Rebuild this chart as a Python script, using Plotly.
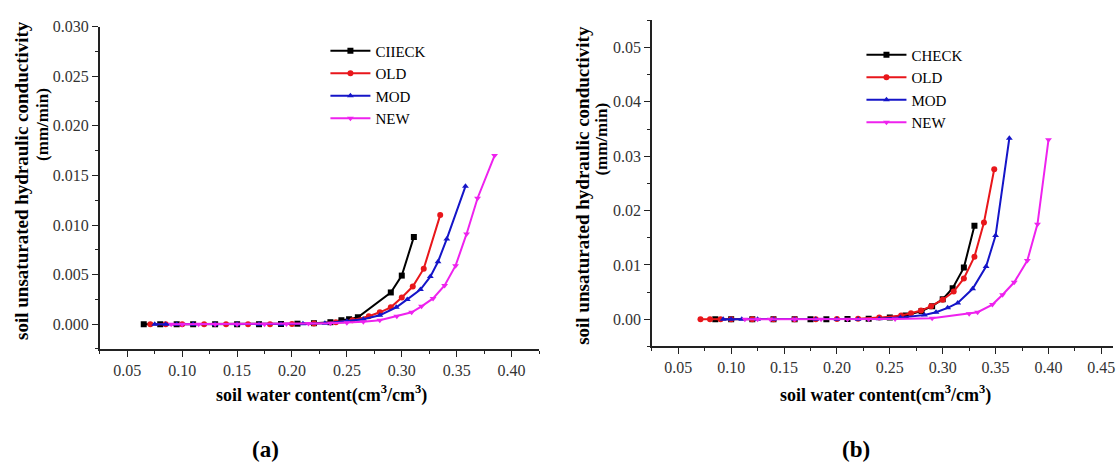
import plotly.graph_objects as go

# ---------------- data: panel (a) ----------------
a_check_x = [0.065, 0.08, 0.095, 0.11, 0.13, 0.15, 0.17, 0.19, 0.205, 0.22, 0.235, 0.245, 0.252, 0.26, 0.29, 0.30, 0.311]
a_check_y = [0, 0, 0, 0, 0, 0, 0, 0.00002, 0.00005, 0.0001, 0.0002, 0.0004, 0.0005, 0.0007, 0.0032, 0.0049, 0.0088]

a_old_x = [0.071, 0.085, 0.10, 0.12, 0.14, 0.16, 0.18, 0.20, 0.22, 0.24, 0.255, 0.27, 0.28, 0.29, 0.30, 0.31, 0.32, 0.335]
a_old_y = [0, 0, 0, 0, 0, 0, 0, 0.00003, 0.00008, 0.0002, 0.0004, 0.0008, 0.0012, 0.0017, 0.0027, 0.0038, 0.0056, 0.0110]

a_mod_x = [0.075, 0.085, 0.095, 0.11, 0.13, 0.15, 0.17, 0.19, 0.21, 0.23, 0.25, 0.265, 0.28, 0.295, 0.305, 0.317, 0.326, 0.333, 0.341, 0.358]
a_mod_y = [0, 0, 0, 0, 0, 0, 0, 0, 0.00004, 0.0001, 0.0003, 0.0005, 0.0009, 0.0017, 0.0025, 0.0035, 0.0048, 0.0063, 0.0086, 0.0139]

a_new_x = [0.09, 0.10, 0.115, 0.13, 0.15, 0.175, 0.195, 0.215, 0.235, 0.25, 0.265, 0.28, 0.2955, 0.309, 0.318, 0.3285, 0.339, 0.349, 0.359, 0.369, 0.3845]
a_new_y = [0, 0, 0, 0, 0, 0, 0.00003, 0.00006, 0.0001, 0.00015, 0.00025, 0.0004, 0.0008, 0.0012, 0.0018, 0.0026, 0.0039, 0.0059, 0.0091, 0.0127, 0.0170]

# ---------------- data: panel (b) ----------------
b_check_x = [0.085, 0.10, 0.12, 0.14, 0.16, 0.175, 0.19, 0.21, 0.23, 0.25, 0.265, 0.28, 0.29, 0.30, 0.3094, 0.32, 0.33]
b_check_y = [0, 0, 0, 0, 0, 0, 0.00002, 0.00005, 0.0001, 0.0003, 0.0007, 0.0015, 0.0024, 0.0037, 0.0057, 0.0095, 0.0172]

b_old_x = [0.071, 0.08, 0.09, 0.10, 0.12, 0.14, 0.16, 0.18, 0.20, 0.22, 0.24, 0.2607, 0.27, 0.2795, 0.289, 0.30, 0.3104, 0.32, 0.33, 0.339, 0.3487]
b_old_y = [0, 0, 0, 0, 0, 0, 0, 0, 0.00003, 0.0001, 0.0003, 0.0007, 0.0011, 0.0016, 0.0024, 0.0036, 0.0051, 0.0075, 0.0115, 0.0178, 0.0276]

b_mod_x = [0.0925, 0.10, 0.11, 0.125, 0.14, 0.16, 0.18, 0.20, 0.22, 0.24, 0.26, 0.2827, 0.2937, 0.3047, 0.3142, 0.3283, 0.341, 0.35, 0.363]
b_mod_y = [0, 0, 0, 0, 0, 0, 0, 0, 0.00002, 0.0001, 0.0003, 0.0008, 0.0013, 0.0021, 0.0030, 0.0056, 0.0097, 0.0154, 0.0333]

b_new_x = [0.113, 0.125, 0.137, 0.16, 0.185, 0.21, 0.23, 0.255, 0.29, 0.325, 0.333, 0.347, 0.3566, 0.3676, 0.38, 0.3896, 0.40]
b_new_y = [0, 0, 0, 0, 0, 0, 0.00002, 0.00005, 0.0002, 0.0010, 0.0013, 0.0027, 0.0045, 0.0068, 0.0108, 0.0175, 0.0330]

names_a = ["CIIECK", "OLD", "MOD", "NEW"]
names_b = ["CHECK", "OLD", "MOD", "NEW"]
x_ticks = [0.05, 0.10, 0.15, 0.20, 0.25, 0.30, 0.35, 0.40, 0.45]

colors = ["#000000", "#e8161b", "#1515c8", "#ee22ee"]
symbols = ["square", "circle", "triangle-up", "triangle-down"]

SERIF = "Times New Roman, Liberation Serif, DejaVu Serif, serif"
W, H = 1117, 462
fig = go.Figure()

series_a = [(a_check_x, a_check_y), (a_old_x, a_old_y), (a_mod_x, a_mod_y), (a_new_x, a_new_y)]
series_b = [(b_check_x, b_check_y), (b_old_x, b_old_y), (b_mod_x, b_mod_y), (b_new_x, b_new_y)]

for i, (xs, ys) in enumerate(series_a):
    fig.add_trace(go.Scatter(x=xs, y=ys, name=names_a[i], mode="lines+markers",
                             line=dict(color=colors[i], width=2),
                             marker=dict(symbol=symbols[i], size=6, color=colors[i]),
                             xaxis="x", yaxis="y", legend="legend"))
for i, (xs, ys) in enumerate(series_b):
    fig.add_trace(go.Scatter(x=xs, y=ys, name=names_b[i], mode="lines+markers",
                             line=dict(color=colors[i], width=2),
                             marker=dict(symbol=symbols[i], size=6, color=colors[i]),
                             xaxis="x2", yaxis="y2", legend="legend2"))

tickfont = dict(family=SERIF, size=16, color="#333333")
common = dict(showgrid=False, zeroline=False, showline=True, linecolor="#222222", linewidth=1.5,
              ticks="outside", ticklen=6, tickwidth=1.2, tickcolor="#222222", tickfont=tickfont,
              ticklabeloverflow="allow")

fig.update_layout(
    width=W, height=H, paper_bgcolor="white", plot_bgcolor="white",
    margin=dict(l=0, r=0, t=0, b=0),
    xaxis=dict(domain=[100 / W, 540 / W], range=[0.025, 0.425], tickvals=x_ticks[:8],
               tickformat=".2f", anchor="y",
               minor=dict(ticks="outside", ticklen=3, dtick=0.025, tick0=0.025, tickcolor="#222222"),
               **common),
    yaxis=dict(domain=[1 - 347 / H, 1 - 19 / H], range=[-0.0025, 0.030], dtick=0.005, tick0=0,
               tickformat=".3f", anchor="x",
               minor=dict(ticks="outside", ticklen=3, dtick=0.0025, tick0=0, tickcolor="#222222"),
               **common),
    xaxis2=dict(domain=[653 / W, 1115 / W], range=[0.025, 0.461], tickvals=x_ticks,
                tickformat=".2f", anchor="y2",
                minor=dict(ticks="outside", ticklen=3, dtick=0.025, tick0=0.025, tickcolor="#222222"),
                **common),
    yaxis2=dict(domain=[1 - 344.4 / H, 1 - 12.5 / H], range=[-0.005, 0.055], dtick=0.01, tick0=0,
                tickformat=".2f", anchor="x2",
                minor=dict(ticks="outside", ticklen=3, dtick=0.005, tick0=0, tickcolor="#222222"),
                **common),
    legend=dict(x=326 / W, y=1 - 27 / H, xanchor="left", yanchor="top",
                font=dict(family=SERIF, size=15, color="#000"),
                bgcolor="rgba(0,0,0,0)", tracegroupgap=0, itemwidth=40),
    legend2=dict(x=863 / W, y=1 - 31 / H, xanchor="left", yanchor="top",
                 font=dict(family=SERIF, size=15, color="#000"),
                 bgcolor="rgba(0,0,0,0)", tracegroupgap=0, itemwidth=40),
    showlegend=True,
)

f19 = dict(family=SERIF, size=19, color="#000")
f17 = dict(family=SERIF, size=17, color="#000")
f18 = dict(family=SERIF, size=18, color="#000")
ann = []
# y titles
ann.append(dict(text="<b>soil unsaturated hydraulic conductivity</b>", x=22 / W, y=1 - 175 / H,
                xref="paper", yref="paper", textangle=-90, showarrow=False, font=f19,
                xanchor="center", yanchor="middle"))
ann.append(dict(text="<b>(mm/min)</b>", x=43 / W, y=1 - 118 / H,
                xref="paper", yref="paper", textangle=-90, showarrow=False, font=f17,
                xanchor="center", yanchor="middle"))
ann.append(dict(text="<b>soil unsaturated hydraulic conductivity</b>", x=584 / W, y=1 - 180 / H,
                xref="paper", yref="paper", textangle=-90, showarrow=False, font=f19,
                xanchor="center", yanchor="middle"))
ann.append(dict(text="<b>(mm/min)</b>", x=603 / W, y=1 - 133 / H,
                xref="paper", yref="paper", textangle=-90, showarrow=False, font=f17,
                xanchor="center", yanchor="middle"))
# x titles
ann.append(dict(text="<b>soil water content(cm<sup>3</sup>/cm<sup>3</sup>)</b>", x=322 / W, y=1 - 393 / H,
                xref="paper", yref="paper", showarrow=False, font=f18,
                xanchor="center", yanchor="middle"))
ann.append(dict(text="<b>soil water content(cm<sup>3</sup>/cm<sup>3</sup>)</b>", x=887 / W, y=1 - 393 / H,
                xref="paper", yref="paper", showarrow=False, font=f18,
                xanchor="center", yanchor="middle"))
# panel labels
ann.append(dict(text="<b>(a)</b>", x=266 / W, y=1 - 449 / H, xref="paper", yref="paper",
                showarrow=False, font=dict(family=SERIF, size=23, color="#000"),
                xanchor="center", yanchor="middle"))
ann.append(dict(text="<b>(b)</b>", x=858 / W, y=1 - 449 / H, xref="paper", yref="paper",
                showarrow=False, font=dict(family=SERIF, size=23, color="#000"),
                xanchor="center", yanchor="middle"))
fig.update_layout(annotations=ann)

fig.write_html("out.html", config={"displayModeBar": False},
               post_script="document.body.style.margin='0px';document.body.style.overflow='hidden';")
